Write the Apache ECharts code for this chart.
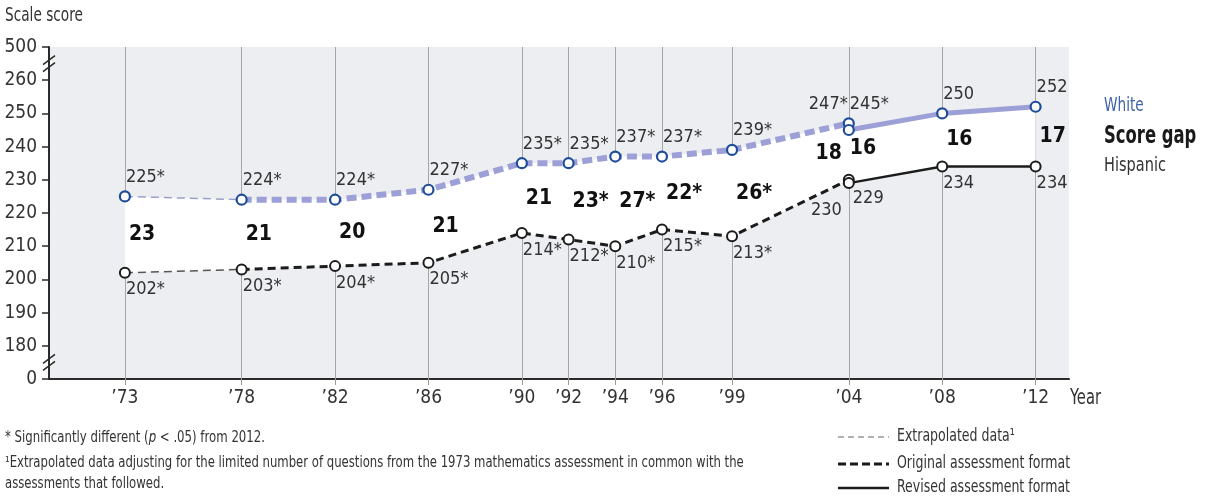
<!DOCTYPE html>
<html>
<head>
<meta charset="utf-8">
<script src="https://cdn.jsdelivr.net/npm/echarts@6/dist/echarts.min.js"></script>
<style>
html,body{margin:0;padding:0;background:#fff;}
#c{width:1217px;height:497px;}
</style>
</head>
<body>
<div id="c"></div>
<script>
// ---- data ----
const years    = [1973,1978,1982,1986,1990,1992,1994,1996,1999,2004,2004,2008,2012];
const white    = [225,224,224,227,235,235,237,237,239,247,245,250,252];
const hispanic = [202,203,204,205,214,212,210,215,213,230,229,234,234];
const whiteSig = [1,1,1,1,1,1,1,1,1,1,1,0,0];
const hispSig  = [1,1,1,1,1,1,1,1,1,0,0,0,0];
const gap      = [23,21,20,21,21,23,27,22,26,18,16,16,17];
const gapSig   = [0,0,0,0,0,1,1,1,1,0,0,0,0];
const tickYears = [1973,1978,1982,1986,1990,1992,1994,1996,1999,2004,2008,2012];
const extIdx  = [0,1];
const origIdx = [1,2,3,4,5,6,7,8,9];
const revIdx  = [10,11,12];

const FONT = "'Liberation Sans Narrow','DejaVu Sans Condensed','Arial Narrow',sans-serif";
const WHITE_LINE = '#9ca0d7';
const WHITE_MARK = '#1f4c98';
const HISP = '#1c1c1c';

const pts = (arr, idx) => idx.map(i => [years[i], arr[i]]);

const chart = echarts.init(document.getElementById('c'), null, {renderer: 'canvas'});

function whiteLabel(i) {
  const base = {show: true, position: 'top', align: 'left', distance: 4, offset: [1, 0],
    fontFamily: FONT, fontSize: 18, color: '#333', formatter: white[i] + (whiteSig[i] ? '*' : '')};
  if (i === 9) { base.align = 'right'; base.offset = [-1, 0]; }
  if (i === 10) { base.offset = [1, -7]; }
  return base;
}
function hispLabel(i) {
  const base = {show: true, position: 'bottom', align: 'left', distance: 2, offset: [1, 0],
    fontFamily: FONT, fontSize: 18, color: '#333', formatter: hispanic[i] + (hispSig[i] ? '*' : '')};
  if (i === 9) { base.align = 'right'; base.offset = [-7, 14]; }
  if (i === 10) { base.offset = [4, -2]; }
  return base;
}
function gapLabel(i) {
  const base = {show: true, position: 'right', distance: 4, align: 'left', offset: [0, 0],
    fontFamily: FONT, fontSize: 21, fontWeight: 'bold', color: '#111',
    formatter: gap[i] + (gapSig[i] ? '*' : '')};
  if (i === 9) { base.position = 'left'; base.align = 'right'; base.distance = 7; base.offset = [0, 2]; }
  if (i === 10) { base.distance = 1; base.offset = [0, -8]; }
  return base;
}

const option = {
  animation: false,
  textStyle: {fontFamily: FONT},
  grid: {left: 49, right: 148, top: 47, bottom: 118, show: true, backgroundColor: '#eceef2', borderWidth: 0},
  xAxis: {
    type: 'value', min: 1969.75, max: 2013.43,
    splitLine: {show: false},
    axisLine: {show: true, lineStyle: {color: '#2a2a2a', width: 2}},
    axisTick: {show: true, customValues: tickYears, length: 6, lineStyle: {color: '#9a9a9a', width: 1}},
    axisLabel: {customValues: tickYears, margin: 10, fontFamily: FONT, fontSize: 19, color: '#333',
      formatter: v => '\u2019' + String(v).slice(2)}
  },
  yAxis: {
    type: 'value', min: 170, max: 270, interval: 10,
    splitLine: {show: false},
    axisLine: {show: true, lineStyle: {color: '#2a2a2a', width: 2}},
    axisTick: {show: true, length: 7, lineStyle: {color: '#2a2a2a', width: 1.5}},
    axisLabel: {margin: 12, fontFamily: FONT, fontSize: 19, color: '#333',
      formatter: v => v === 170 ? '0' : (v === 270 ? '500' : String(v))}
  },
  series: [
    { // vertical year gridlines
      type: 'scatter', data: [], z: 1, silent: true,
      markLine: {silent: true, z: 1, symbol: 'none', label: {show: false},
        lineStyle: {color: '#a6a6a6', width: 1, type: 'solid'},
        data: tickYears.map(y => ({xAxis: y}))}
    },
    { // white band between the two groups
      type: 'custom', z: 2, silent: true, data: [[years[0], white[0]]],
      renderItem: (params, api) => {
        const up = years.map((y, i) => api.coord([y, white[i]]));
        const lo = years.map((y, i) => api.coord([y, hispanic[i]])).reverse();
        return {type: 'polygon', shape: {points: up.concat(lo)}, style: {fill: '#ffffff'}};
      }
    },
    {type: 'line', z: 3, data: pts(white, extIdx), showSymbol: false, silent: true,
      lineStyle: {color: '#9aa0c9', width: 1.5, type: [8, 5]}},
    {type: 'line', z: 3, data: pts(white, origIdx), showSymbol: false, silent: true,
      lineStyle: {color: WHITE_LINE, width: 6, type: [10, 5], cap: 'butt'}},
    {type: 'line', z: 3, data: pts(white, revIdx), showSymbol: false, silent: true,
      lineStyle: {color: WHITE_LINE, width: 5}},
    {type: 'line', z: 3, data: pts(hispanic, extIdx), showSymbol: false, silent: true,
      lineStyle: {color: '#555', width: 1.5, type: [8, 5]}},
    {type: 'line', z: 3, data: pts(hispanic, origIdx), showSymbol: false, silent: true,
      lineStyle: {color: HISP, width: 3, type: [8, 5], cap: 'butt'}},
    {type: 'line', z: 3, data: pts(hispanic, revIdx), showSymbol: false, silent: true,
      lineStyle: {color: HISP, width: 2.5}},
    { // white markers + labels
      type: 'scatter', z: 6, symbol: 'circle', symbolSize: 10, silent: true,
      itemStyle: {color: '#ffffff', borderColor: WHITE_MARK, borderWidth: 2.2, opacity: 1},
      data: years.map((y, i) => ({value: [y, white[i]], label: whiteLabel(i)}))
    },
    { // hispanic markers + labels
      type: 'scatter', z: 6, symbol: 'circle', symbolSize: 10, silent: true,
      itemStyle: {color: '#ffffff', borderColor: HISP, borderWidth: 2, opacity: 1},
      data: years.map((y, i) => ({value: [y, hispanic[i]], label: hispLabel(i)}))
    },
    { // score gap labels, placed at the midpoint between groups
      type: 'scatter', z: 7, symbolSize: 0, silent: true,
      itemStyle: {opacity: 1},
      data: years.map((y, i) => ({value: [y, (white[i] + hispanic[i]) / 2], label: gapLabel(i)}))
    }
  ]
};
chart.setOption(option);

// decorations: axis breaks, titles, legends, notes
const yAxisX = chart.convertToPixel({gridIndex: 0}, [1969.75, 170])[0];
function breakMark(val) {
  const py = chart.convertToPixel({yAxisIndex: 0}, val);
  return {type: 'group', x: yAxisX, y: py, z: 100, children: [
    {type: 'rect', shape: {x: -3, y: -3, width: 6, height: 6}, style: {fill: '#fff'}},
    {type: 'line', shape: {x1: -6, y1: 1, x2: 6, y2: -8}, style: {stroke: '#2a2a2a', lineWidth: 1.5}},
    {type: 'line', shape: {x1: -6, y1: 8, x2: 6, y2: -1}, style: {stroke: '#2a2a2a', lineWidth: 1.5}}
  ]};
}
const txt = (x, y, text, sx, extra) => ({type: 'text', x, y, z: 100, scaleX: sx,
  style: Object.assign({text, fontFamily: FONT, fontSize: 19, fill: '#333', verticalAlign: 'middle', align: 'left'}, extra || {})});
const seg = (y, stroke, lw, dash) => ({type: 'line', z: 100,
  shape: {x1: 838, y1: y, x2: 889, y2: y},
  style: {stroke, lineWidth: lw, lineDash: dash || null}});

chart.setOption({graphic: {elements: [
  breakMark(265), breakMark(175),
  txt(5, 16, 'Scale score', 0.76, {fontSize: 20}),
  txt(1070, 399, 'Year', 0.78, {fontSize: 21}),
  txt(1104, 106, 'White', 0.8, {fill: '#3f62a8', fontSize: 19}),
  txt(1104, 137, 'Score gap', 0.76, {fill: '#1a1a1a', fontSize: 24, fontWeight: 'bold'}),
  txt(1104, 166, 'Hispanic', 0.85, {fontSize: 19}),
  seg(437, '#9a9a9a', 1.5, [6, 4]),
  seg(464, '#1a1a1a', 3, [8, 4]),
  seg(488, '#1a1a1a', 2.5),
  txt(897, 437, 'Extrapolated data\u00B9', 0.82, {fontSize: 17}),
  txt(897, 464, 'Original assessment format', 0.82, {fontSize: 17}),
  txt(897, 488, 'Revised assessment format', 0.82, {fontSize: 17}),
  {type: 'text', x: 5, y: 438, z: 100, scaleX: 0.87, style: {
    text: '* Significantly different ({i|p} < .05) from 2012.',
    fontFamily: FONT, fontSize: 15, fill: '#333', verticalAlign: 'middle',
    rich: {i: {fontStyle: 'italic', fontFamily: FONT, fontSize: 15, fill: '#333'}}}},
  txt(5, 463, '\u00B9Extrapolated data adjusting for the limited number of questions from the 1973 mathematics assessment in common with the', 0.865, {fontSize: 15}),
  txt(5, 484, 'assessments that followed.', 0.865, {fontSize: 15})
]}});
</script>
</body>
</html>
